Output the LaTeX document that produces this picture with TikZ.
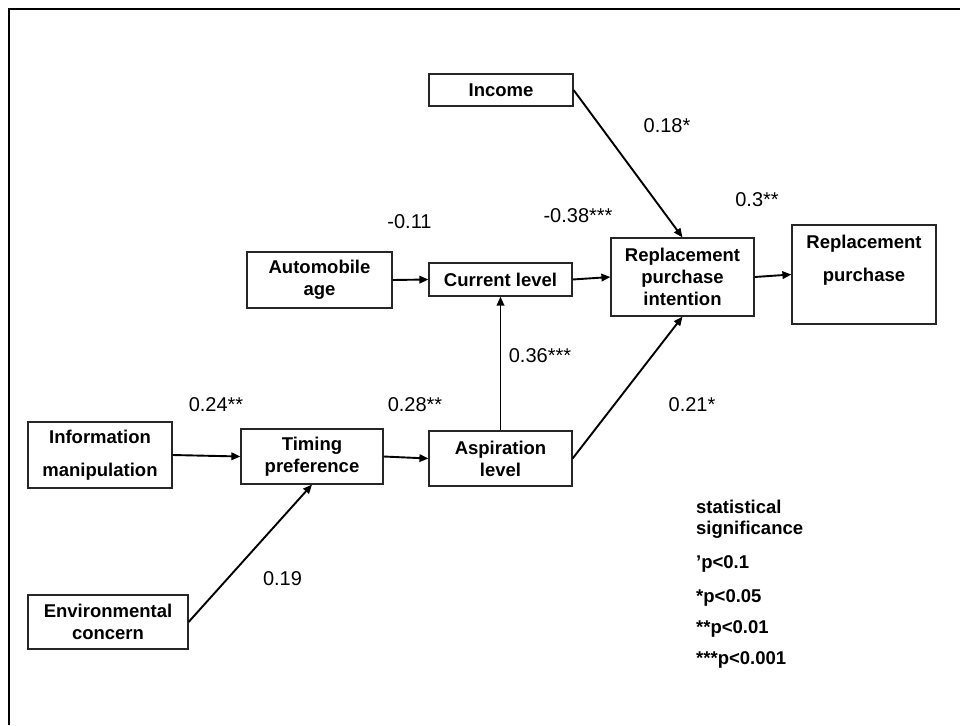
\documentclass[tikz,border=0pt]{standalone}
\usepackage{fontspec}
\setmainfont{Liberation Sans}
\usetikzlibrary{arrows.meta}
\begin{document}
\begin{tikzpicture}[x=1pt,y=-1pt,
  box/.style={draw=black!85,line width=1.2pt,inner sep=0pt,align=center,
    font=\fontsize{18.5}{22}\selectfont\bfseries},
  arr/.style={line width=1.9pt,-{Triangle[length=9pt,width=7.5pt]}},
  num/.style={anchor=base,inner sep=0pt,font=\fontsize{20}{24}\selectfont},
  leg/.style={anchor=base west,inner sep=0pt,font=\fontsize{18.5}{22}\selectfont\bfseries}]
\useasboundingbox (0,0) rectangle (960,725);
% frame
\draw[line width=2pt] (960,8.7) -- (8.9,8.7) -- (8.9,725);
% boxes
\node[box,minimum width=144pt,minimum height=32pt] (inc) at (501,90) {Income};
\node[box,minimum width=145pt,minimum height=56pt] (age) at (319.5,280) {Automobile\\age};
\node[box,minimum width=143pt,minimum height=33pt] (cur) at (500.5,279.5) {Current level};
\node[box,minimum width=143pt,minimum height=78pt] (rpi) at (682.5,277) {Replacement\\purchase\\intention};
\node[box,minimum width=144pt,minimum height=99pt] (rp) at (864,274.5) {};
\node[box,draw=none] (rptext) at (864,260.5) {Replacement\\[11pt]purchase};
\node[box,minimum width=144pt,minimum height=66pt] (inf) at (100,455) {Information\\[11pt]manipulation};
\node[box,minimum width=142pt,minimum height=55pt] (tim) at (312,456.5) {Timing\\preference};
\node[box,minimum width=143pt,minimum height=55pt] (asp) at (500.5,458.5) {Aspiration\\level};
\node[box,minimum width=160pt,minimum height=54pt] (env) at (108,622) {Environmental\\concern};
% connectors
\draw[arr] (inc.east) -- (rpi.north);
\draw[arr] (age.east) -- (cur.west);
\draw[arr] (cur.east) -- (rpi.west);
\draw[arr] (rpi.east) -- (rp.west);
\draw[arr] (inf.east) -- (tim.west);
\draw[arr] (tim.east) -- (asp.west);
\draw[arr] (asp.north) -- (cur.south);
\draw[arr] (asp.east) -- (rpi.south);
\draw[arr] (env.east) -- (tim.south);
% coefficients
\node[num] (n1) at (667,132) {0.18*};
\node[num] (n2) at (409.5,228) {-0.11};
\node[num] (n3) at (578,222) {-0.38***};
\node[num] (n4) at (757,206) {0.3**};
\node[num] (n5) at (540,362) {0.36***};
\node[num] (n6) at (216,411) {0.24**};
\node[num] (n7) at (415,411) {0.28**};
\node[num] (n8) at (692,411) {0.21*};
\node[num] (n9) at (282.5,585) {0.19};
% legend
\node[leg] (l1) at (696,513) {statistical};
\node[leg] (l2) at (696,534) {significance};
\node[leg] (l3) at (696,568) {’p<0.1};
\node[leg] (l4) at (696,602) {*p<0.05};
\node[leg] (l5) at (696,633) {**p<0.01};
\node[leg] (l6) at (696,664) {***p<0.001};
\end{tikzpicture}
\end{document}
